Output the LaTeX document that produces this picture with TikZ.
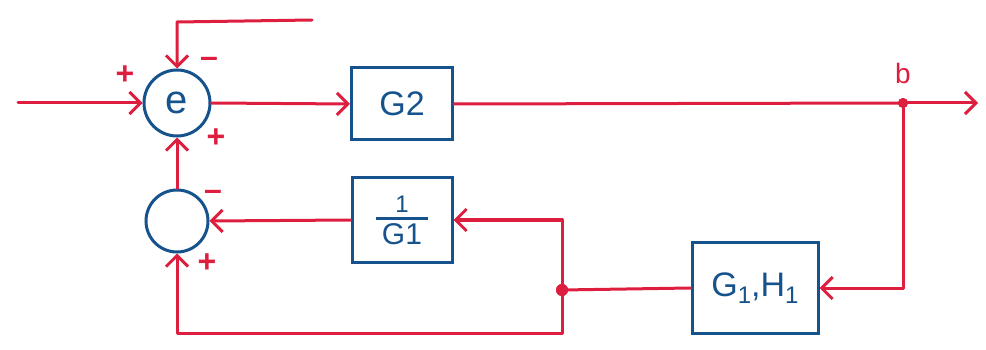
\documentclass[tikz,border=0pt]{standalone}
\usepackage{fontspec}
\setmainfont{Liberation Sans}
\usetikzlibrary{arrows.meta}
\definecolor{sigred}{RGB}{222,30,62}
\definecolor{boxblue}{RGB}{22,82,140}
\tikzset{
  sig/.style={draw=sigred, line width=3pt, line join=round, line cap=round},
  arr/.style={sig, -{Straight Barb[length=11pt,width=22pt,line width=3pt]}},
  blk/.style={draw=boxblue, line width=3pt, rectangle, text=boxblue, inner sep=0pt},
  sumj/.style={draw=boxblue, line width=3pt, circle, inner sep=0pt, text=boxblue},
  sgn/.style={text=sigred, font=\fontsize{32}{32}\selectfont\bfseries, inner sep=0pt},
  dotj/.style={circle, fill=sigred, inner sep=0pt, minimum size=12pt},
}
\begin{document}
\begin{tikzpicture}[x=1pt,y=-1pt]
\useasboundingbox (0,0) rectangle (986,350);
% nodes
\node[sumj, minimum size=66pt, font=\fontsize{40}{40}\selectfont] (e) at (177,103) {e};
\node[sumj, minimum size=62pt] (s2) at (177,221) {};
\node[blk, minimum width=101pt, minimum height=72pt, font=\fontsize{34}{34}\selectfont] (G2) at (402,104) {G2};
\node[blk, minimum width=100pt, minimum height=84pt, align=center] (G1) at (402,220)
  {{\fontsize{24}{20}\selectfont 1}\\[-4pt]{\color{boxblue}\rule{52pt}{3pt}}\\[2pt]{\fontsize{30}{30}\selectfont G1}};
\node[blk, minimum width=126pt, minimum height=91pt, font=\fontsize{34}{34}\selectfont] (GH) at (755,288) {G\raisebox{-7pt}{\fontsize{24}{24}\selectfont 1},H\raisebox{-7pt}{\fontsize{24}{24}\selectfont 1}};
\node[dotj, minimum size=10pt] (b) at (903,103) {};
\node[dotj] (j) at (562,290) {};
\coordinate (in) at (18,103);
\coordinate (out) at (978,103);
\coordinate (tr) at (312,20);
\coordinate (tl) at (177,22);
\coordinate (bR) at (903,288);
\coordinate (jT) at (562,220);
\coordinate (jB) at (562,333);
\coordinate (lB) at (177,333);
% labels
\node[text=sigred, font=\fontsize{28}{28}\selectfont] (lb) at (903,73) {b};
\node[sgn] (p1) at (125,75) {+};
\node[sgn] (m1) at (209,62) {–};
\node[sgn] (p2) at (216,138) {+};
\node[sgn] (m2) at (213,195) {–};
\node[sgn] (p3) at (207,263) {+};
% connectors
\draw[arr] (in) -- (e.west);
\draw[arr] (tr) -- (tl) -- (e.north);
\draw[arr] (e.east) -- (G2.west);
\draw[sig] (G2.east) -- (b.center);
\draw[arr] (b.center) -- (out);
\draw[arr] (b.center) -- (bR) -- (GH.east);
\draw[sig] (GH.west) -- (j.center);
\draw[arr] (j.center) -- (jT) -- (G1.east);
\draw[arr] (G1.west) -- (s2.east);
\draw[arr] (j.center) -- (jB) -- (lB) -- (s2.south);
\draw[arr] (s2.north) -- (e.south);
\node[dotj, minimum size=10pt] at (b) {};
\node[dotj] at (j) {};
\end{tikzpicture}
\end{document}
